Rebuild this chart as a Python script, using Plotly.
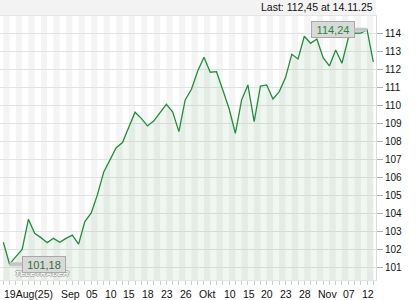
import plotly.graph_objects as go

# ---- data -------------------------------------------------------------
dates = [
    "2025-08-19", "2025-08-20", "2025-08-21", "2025-08-22", "2025-08-25",
    "2025-08-26", "2025-08-27", "2025-08-28", "2025-08-29",
    "2025-09-01", "2025-09-02", "2025-09-03", "2025-09-04", "2025-09-05",
    "2025-09-08", "2025-09-09", "2025-09-10", "2025-09-11", "2025-09-12",
    "2025-09-15", "2025-09-16", "2025-09-17", "2025-09-18", "2025-09-19",
    "2025-09-22", "2025-09-23", "2025-09-24", "2025-09-25", "2025-09-26",
    "2025-09-29", "2025-09-30",
    "2025-10-01", "2025-10-02", "2025-10-06", "2025-10-08", "2025-10-10",
    "2025-10-13", "2025-10-14", "2025-10-15", "2025-10-16", "2025-10-17",
    "2025-10-20", "2025-10-21", "2025-10-22", "2025-10-23", "2025-10-24",
    "2025-10-27", "2025-10-28", "2025-10-29", "2025-10-30",
    "2025-11-03", "2025-11-04", "2025-11-05", "2025-11-06", "2025-11-07",
    "2025-11-10", "2025-11-11", "2025-11-12", "2025-11-13", "2025-11-14",
]
prices = [
    102.40, 101.18, 101.60, 102.00, 103.68, 102.90, 102.66, 102.38, 102.62,
    102.40, 102.62, 102.80, 102.30, 103.55, 104.02, 105.04, 106.30, 106.98,
    107.67, 107.95, 108.75, 109.64, 109.30, 108.88, 109.16, 109.64, 110.08,
    109.67, 108.56, 110.33, 110.92, 111.94, 112.70, 111.87, 111.90, 110.88,
    109.85, 108.47, 110.33, 111.16, 109.12, 111.10, 111.16, 110.38, 110.79,
    111.57, 112.87, 112.61, 113.87, 113.48, 113.72, 112.68, 112.22, 113.11,
    112.37, 113.76, 114.04, 114.05, 114.24, 112.45,
]
tick_dates = [
    "2025-08-19", "2025-09-01", "2025-09-05", "2025-09-10", "2025-09-15",
    "2025-09-18", "2025-09-23", "2025-09-26", "2025-10-01", "2025-10-10",
    "2025-10-15", "2025-10-20", "2025-10-23", "2025-10-28", "2025-11-03",
    "2025-11-07", "2025-11-12",
]
tick_labels = ["19Aug(25)", "Sep", "05", "10", "15", "18", "23", "26", "Okt",
               "10", "15", "20", "23", "28", "Nov", "07", "12"]
y_ticks = list(range(101, 115))
last_date_label = "14.11.25"

# ---- styling ----------------------------------------------------------
FONT = "Liberation Sans, Arial, sans-serif"
LINE = "#1f8f3a"

def fmt(v):
    return f"{v:.2f}".replace(".", ",")

fig = go.Figure()
fig.add_trace(go.Scatter(
    x=dates, y=prices, mode="lines",
    line=dict(color=LINE, width=1.3),
    fill="tozeroy", fillcolor="rgba(70,140,70,0.08)",
    hoverinfo="skip", showlegend=False,
))

shapes = []
# alternating day stripes
for i in range(0, len(dates), 2):
    shapes.append(dict(type="rect", xref="x", yref="paper",
                       x0=i, x1=i + 1, y0=0, y1=1,
                       fillcolor="#f4f4f4", line_width=0, layer="below"))
# header band
shapes.append(dict(type="rect", xref="paper", yref="paper",
                   x0=0, x1=1, y0=1, y1=1 + 16 / 264,
                   fillcolor="#f3f3f3", line_width=0, layer="below"))

annotations = []
for d, t in zip(tick_dates, tick_labels):
    annotations.append(dict(x=d, y=0, xref="x", yref="paper", text=t,
                            showarrow=False, xanchor="left", yanchor="top",
                            xshift=-1, yshift=-6,
                            font=dict(family=FONT, size=10.5, color="#111")))

annotations.append(dict(x=1, y=1, xref="paper", yref="paper",
                        text=f"Last: {fmt(prices[-1])} at {last_date_label}",
                        showarrow=False, xanchor="right", yanchor="bottom",
                        xshift=-1, yshift=1,
                        font=dict(family=FONT, size=10.5, color="#111")))

# watermark
annotations.append(dict(x=0.113, y=0.0, xref="paper", yref="paper",
                        text="<b><i>TELETRADER</i></b>", showarrow=False,
                        xanchor="center", yanchor="bottom", yshift=0,
                        font=dict(family=FONT, size=8, color="#f4f4f4",
                                  shadow="1px 0 0 #b0b0b0, -1px 0 0 #b0b0b0, 0 1px 0 #b0b0b0, 0 -1px 0 #b0b0b0")))

imax = prices.index(max(prices))
imin = prices.index(min(prices))
for idx, dx, col in [(imax, -34, "#1f8a38"), (imin, 34, "#2f6f3a")]:
    annotations.append(dict(
        x=dates[idx], y=prices[idx], xref="x", yref="y",
        text=fmt(prices[idx]), showarrow=True, arrowhead=0,
        arrowwidth=4, arrowcolor="#c6c6c6", ax=dx, ay=0, standoff=0,
        bgcolor="#d9d9d9", bordercolor="#a9a9a9", borderwidth=1,
        borderpad=1, width=40, height=13,
        font=dict(family=FONT, size=11, color=col)))

fig.update_layout(
    width=420, height=300,
    margin=dict(l=0, r=44, t=16, b=20),
    paper_bgcolor="white", plot_bgcolor="white",
    shapes=shapes, annotations=annotations,
    xaxis=dict(type="category", range=[-0.53, 59.43],
               showgrid=False, zeroline=False,
               tickmode="linear", tick0=0, dtick=1,
               ticks="outside", ticklen=4, tickcolor="#cccccc",
               showticklabels=False,
               showline=True, linecolor="#e4e4e4", mirror=True),
    yaxis=dict(side="right", range=[100.3, 115.0],
               tickvals=y_ticks, ticktext=[str(v) for v in y_ticks],
               ticks="outside", ticklen=6, tickcolor="#b0b0b0",
               gridcolor="#e2e2e2", gridwidth=1, zeroline=False,
               showline=True, linecolor="#dcdcdc",
               tickfont=dict(family=FONT, size=10, color="#111")),
)

fig.write_html("out.html")
